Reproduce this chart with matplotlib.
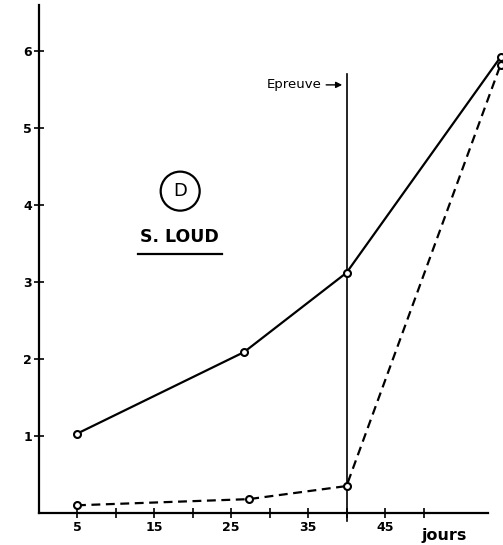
import matplotlib
matplotlib.use("Agg")
import matplotlib.pyplot as plt
from matplotlib.patches import Ellipse

# Values (days, amount)
days_solid = [5, 26.7, 40, 60]
vals_solid = [1.03, 2.09, 3.12, 5.92]
days_dashed = [5, 27.3, 40, 60]
vals_dashed = [0.10, 0.18, 0.35, 5.82]

x_ticks = [5, 15, 25, 35, 45]
x_minor = [10, 20, 30, 40, 50]
y_ticks = [1, 2, 3, 4, 5, 6]
epreuve_day = 40

W, H = 503, 545
PX_X, PX_Y = 7.7, 77  # pixels per day / per unit
fig = plt.figure(figsize=(W / 100, H / 100), dpi=100)
# axes: x=0 at 38.5 px, y=0 at 513 px from top
ax = fig.add_axes([38.5 / W, (H - 513) / H, (W - 38.5) / W, 508 / H])
ax.set_xlim(0, (W - 38.5) / PX_X)
ax.set_ylim(0, 508 / PX_Y)

ax.plot(days_solid, vals_solid, color="black", lw=1.6, marker="o", ms=5,
        mfc="white", mec="black", mew=1.5, clip_on=False, zorder=3)
ax.plot(days_dashed, vals_dashed, color="black", lw=1.6, ls=(0, (4, 2.5)),
        marker="o", ms=5, mfc="white", mec="black", mew=1.5, clip_on=False, zorder=3)

# Epreuve vertical line and label
ax.plot([epreuve_day, epreuve_day], [-0.1, 5.7], color="black", lw=1.2, clip_on=False, zorder=2)
ax.annotate("", xy=(epreuve_day - 0.2, 5.56), xytext=(epreuve_day - 3.0, 5.56),
            arrowprops=dict(arrowstyle="-|>", color="black", lw=1.0, mutation_scale=9))
ax.text(epreuve_day - 3.2, 5.56, "Epreuve", ha="right", va="center", fontsize=9.5)

# Circled D and S. LOUD label
ax.add_patch(Ellipse((18.4, 4.18), 39 / PX_X, 39 / PX_Y, fill=False,
                     lw=1.6, ec="black"))
ax.text(18.4, 4.18, "D", ha="center", va="center", fontsize=13)
ax.text(18.3, 3.58, "S. LOUD", ha="center", va="center", fontsize=12.5, fontweight="bold")
ax.plot([12.9, 23.8], [3.36, 3.36], color="black", lw=1.6)

# axes styling
for s in ["top", "right"]:
    ax.spines[s].set_visible(False)
ax.spines["left"].set_linewidth(1.6)
ax.spines["bottom"].set_linewidth(1.6)
ax.spines["bottom"].set_bounds(0, (488 - 38.5) / PX_X)

ax.set_xticks(x_ticks)
ax.set_xticks(x_minor, minor=True)
ax.set_xticklabels([str(t) for t in x_ticks], fontsize=9, fontweight="bold")
ax.set_yticks(y_ticks)
ax.set_yticklabels([str(t) for t in y_ticks], fontsize=9, fontweight="bold")
ax.tick_params(axis="both", which="both", direction="inout", length=7, width=1.2, pad=2)
ax.tick_params(axis="y", pad=1)

ax.text(52.7, -0.29, "jours", ha="center", va="center", fontsize=11.5, fontweight="bold")

fig.savefig("out.png", dpi=100)
